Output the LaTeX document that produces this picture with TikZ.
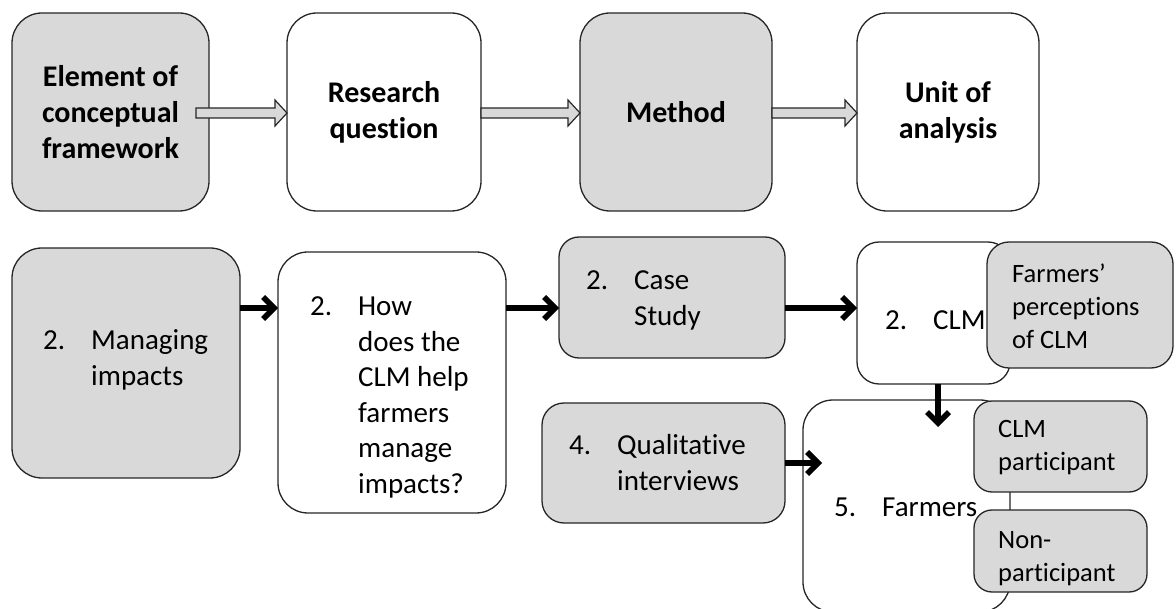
\documentclass[tikz,border=0pt]{standalone}
\usepackage{fontspec}
\setmainfont{Carlito}[Ligatures=NoCommon]
\usetikzlibrary{arrows.meta,calc}
\definecolor{boxgray}{HTML}{D9D9D9}
\definecolor{edge}{HTML}{262626}

\tikzset{
  card/.style={draw=edge, line width=1.3pt, rounded corners=#1, anchor=north west,
    inner sep=0pt, outer sep=0pt},
  card/.default=30pt,
  shaded/.style={fill=boxgray},
  plain/.style={fill=white},
  head/.style={font=\bfseries\fontsize{30}{36}\selectfont, align=center},
  body/.style={font=\fontsize{29}{35.5}\selectfont, anchor=base west, inner sep=0pt},
  note/.style={font=\fontsize{26.5}{33}\selectfont, anchor=base west, inner sep=0pt},
  link/.style={line width=5.5pt, -{Straight Barb[length=11pt,width=22pt]}},
  fat/.style={draw=edge, line width=1.2pt, fill=boxgray, line join=miter},
}

% numbered item with hanging text
\newcommand\numitem[2]{\begin{tabular}[t]{@{}p{48pt}@{}l@{}}#1&#2\end{tabular}}
\newcommand\lines[1]{\begin{tabular}[t]{@{}l@{}}#1\end{tabular}}

% wide hollow block arrow from one anchor to another
\newcommand\fatlink[3]{%
  \path[fat] let \p1=(#1), \p2=(#2) in
    (\x1-#3,\y1+4pt) -- (\x2-12pt,\y1+4pt) -- (\x2-12pt,\y1+12pt) -- (\x2,\y1-1pt)
    -- (\x2-12pt,\y1-14pt) -- (\x2-12pt,\y1-6pt) -- (\x1-#3,\y1-6pt) -- cycle;}

\begin{document}
\begin{tikzpicture}[x=1pt,y=-1pt]
\useasboundingbox (0,0) rectangle (1176,609);
\clip (0,0) rectangle (1176,609);

% header row
\node[card, shaded, head, minimum width=197pt, minimum height=198pt] (b1) at (12,13)
  {Element of\\conceptual\\framework};
\node[card, plain, head, minimum width=194pt, minimum height=198pt] (b2) at (287,13)
  {Research\\question};
\node[card, shaded, head, minimum width=192pt, minimum height=198pt] (b3) at (580,13)
  {Method};
\node[card, plain, head, minimum width=182pt, minimum height=198pt] (b4) at (857,13)
  {Unit of\\analysis};

% content row
\node[card, shaded, minimum width=228pt, minimum height=230pt] (mi) at (12,248) {};
\node[body] (mi-t) at (43,350) {\numitem{2.}{Managing\\&impacts}};

\node[card, plain, minimum width=228pt, minimum height=261pt] (q) at (278,252) {};
\node[body] (q-t) at (310,316)
  {\numitem{2.}{How\\&does the\\&CLM help\\&farmers\\&manage\\&impacts?}};

\node[card=20pt, shaded, minimum width=226pt, minimum height=121pt] (cs) at (559,237) {};
\node[body] (cs-t) at (586,290) {\numitem{2.}{Case\\&Study}};

\node[card=22pt, plain, minimum width=153pt, minimum height=142pt] (clm) at (857,242) {};
\node[body] (clm-t) at (885,330) {\numitem{2.}{CLM}};

\node[card=22pt, shaded, minimum width=186pt, minimum height=126pt] (fp) at (987,242) {};
\node[note] (fp-t) at (1012,283) {\lines{Farmers’\\perceptions\\of CLM}};

\node[card=22pt, shaded, minimum width=243pt, minimum height=120pt] (qi) at (542,403) {};
\node[body] (qi-t) at (569,455) {\numitem{4.}{Qualitative\\&interviews}};

\node[card, plain, minimum width=207pt, minimum height=212pt] (fa) at (803,400) {};
\node[body] (fa-t) at (834,517) {\numitem{5.}{Farmers}};

\node[card=18pt, shaded, minimum width=173pt, minimum height=91pt] (cp) at (974,401) {};
\node[note] (cp-t) at (998,438) {\lines{CLM\\participant}};

\node[card=18pt, shaded, minimum width=173pt, minimum height=82pt] (np) at (974,510) {};
\node[note] (np-t) at (998,548) {\lines{Non-\\participant}};

% header arrows
\fatlink{b1.east}{b2.west}{13pt}
\fatlink{b2.east}{b3.west}{0pt}
\fatlink{b3.east}{b4.west}{0pt}

% content arrows
\coordinate (row) at (0,308);
\draw[link] (mi.east |- row) -- (q.west |- row);
\draw[link] (q.east |- row) -- (cs.west |- row);
\draw[link] (cs.east |- row) -- (clm.west |- row);

\path ([xshift=4.5pt]clm.south) coordinate (drop);
\path ([yshift=-27pt]fa.north) coordinate (fref);
\draw[link] (drop) -- (drop |- fref);

\path ([xshift=19pt]fa.west) coordinate (fin);
\draw[link] (qi.east) -- (qi.east -| fin);
\end{tikzpicture}
\end{document}
